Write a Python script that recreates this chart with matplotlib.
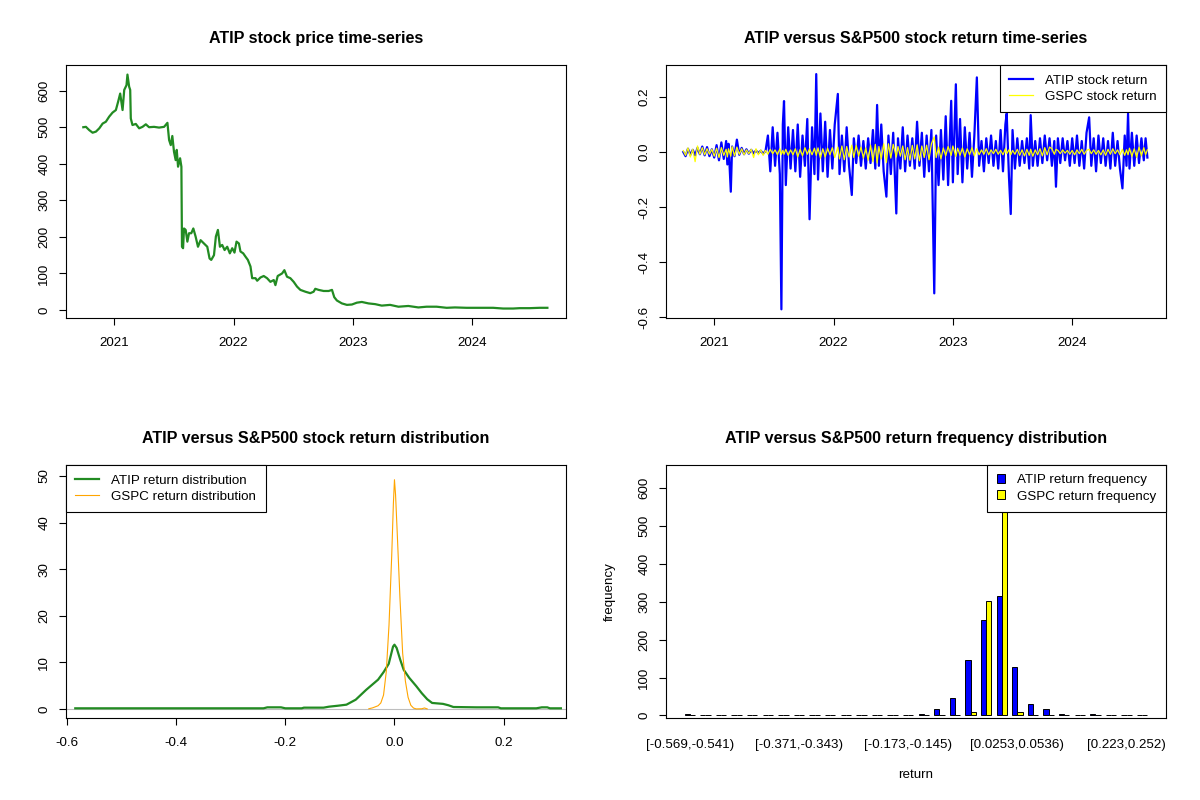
import numpy as np
import matplotlib
matplotlib.use("Agg")
import matplotlib.pyplot as plt
from matplotlib.patches import Patch
from matplotlib.lines import Line2D

plt.rcParams['font.family'] = ['Liberation Sans', 'DejaVu Sans']
plt.rcParams['axes.unicode_minus'] = False

# ---- ATIP closing price (decimal year, price) ----
price_t = [
    2020.741, 2020.763, 2020.791, 2020.819, 2020.847, 2020.875, 2020.903, 2020.930, 2020.958, 2020.986,
    2021.014, 2021.033, 2021.050, 2021.070, 2021.084, 2021.103, 2021.111, 2021.125, 2021.134, 2021.139,
    2021.153, 2021.181, 2021.209, 2021.237, 2021.265, 2021.292, 2021.334, 2021.376, 2021.418, 2021.446,
    2021.460, 2021.474, 2021.487, 2021.501, 2021.515, 2021.524, 2021.535, 2021.552, 2021.563, 2021.568,
    2021.577, 2021.585, 2021.599, 2021.613, 2021.627, 2021.646, 2021.663, 2021.682, 2021.702, 2021.724,
    2021.752, 2021.780, 2021.799, 2021.813, 2021.836, 2021.852, 2021.869, 2021.886, 2021.905, 2021.925,
    2021.947, 2021.969, 2021.989, 2022.008, 2022.025, 2022.045, 2022.058, 2022.081, 2022.100, 2022.120,
    2022.142, 2022.156, 2022.184, 2022.198, 2022.226, 2022.253, 2022.281, 2022.309, 2022.337, 2022.351,
    2022.370, 2022.407, 2022.426, 2022.448, 2022.476, 2022.504, 2022.532, 2022.560, 2022.602, 2022.643,
    2022.671, 2022.685, 2022.713, 2022.755, 2022.797, 2022.825, 2022.844, 2022.866, 2022.908, 2022.950,
    2022.992, 2023.033, 2023.075, 2023.131, 2023.187, 2023.242, 2023.312, 2023.382, 2023.465, 2023.549,
    2023.618, 2023.702, 2023.786, 2023.855, 2023.953, 2024.064, 2024.175, 2024.259, 2024.343, 2024.398,
    2024.482, 2024.565, 2024.630,
]
price = [
    500, 501, 492, 485, 488, 497, 510, 515, 529, 540,
    547, 570, 592, 547, 602, 615, 644, 611, 602, 524,
    506, 509, 497, 501, 508, 500, 501, 499, 501, 512,
    465, 451, 476, 433, 410, 438, 392, 415, 392, 173,
    169, 223, 219, 187, 210, 210, 223, 201, 173, 191,
    182, 173, 141, 137, 150, 201, 219, 173, 178, 164,
    173, 155, 169, 157, 187, 182, 160, 155, 146, 137,
    119, 87, 87, 80, 89, 93, 87, 77, 82, 68,
    93, 100, 109, 91, 87, 77, 64, 55, 50, 46,
    50, 58, 55, 52, 52, 55, 35, 26, 18, 14,
    15, 20, 22, 18, 16, 12, 14, 9, 11, 7,
    9, 9, 6, 7, 6, 6, 6, 4, 4, 5,
    5, 6, 6,
]

# ---- daily returns (decimal year), ATIP and GSPC ----
ret_t = [
    2020.741, 2020.76, 2020.78, 2020.80, 2020.82, 2020.84, 2020.86, 2020.88, 2020.90, 2020.92,
    2020.94, 2020.96, 2020.98, 2021.00, 2021.02, 2021.04, 2021.06, 2021.08, 2021.10, 2021.11,
    2021.12, 2021.139, 2021.15, 2021.17, 2021.19, 2021.21, 2021.23, 2021.25, 2021.27, 2021.29,
    2021.31, 2021.33, 2021.35, 2021.37, 2021.39, 2021.41, 2021.43, 2021.45, 2021.47, 2021.49,
    2021.51, 2021.53, 2021.55, 2021.563, 2021.575, 2021.585, 2021.60, 2021.62, 2021.64, 2021.66,
    2021.68, 2021.70, 2021.72, 2021.74, 2021.76, 2021.78, 2021.799, 2021.82, 2021.84, 2021.855,
    2021.87, 2021.89, 2021.91, 2021.93, 2021.95, 2021.97, 2021.99, 2022.01, 2022.036, 2022.05,
    2022.07, 2022.09, 2022.11, 2022.13, 2022.153, 2022.17, 2022.19, 2022.21, 2022.23, 2022.25,
    2022.27, 2022.29, 2022.31, 2022.33, 2022.35, 2022.365, 2022.38, 2022.40, 2022.42, 2022.443,
    2022.46, 2022.48, 2022.50, 2022.526, 2022.54, 2022.56, 2022.58, 2022.60, 2022.62, 2022.64,
    2022.66, 2022.68, 2022.70, 2022.72, 2022.74, 2022.76, 2022.78, 2022.80, 2022.82, 2022.844,
    2022.86, 2022.88, 2022.90, 2022.92, 2022.94, 2022.96, 2022.986, 2023.00, 2023.025, 2023.04,
    2023.06, 2023.08, 2023.10, 2023.12, 2023.14, 2023.16, 2023.18, 2023.201, 2023.22, 2023.24,
    2023.26, 2023.28, 2023.30, 2023.32, 2023.34, 2023.36, 2023.38, 2023.40, 2023.42, 2023.44,
    2023.451, 2023.47, 2023.485, 2023.50, 2023.52, 2023.54, 2023.56, 2023.58, 2023.60, 2023.62,
    2023.64, 2023.652, 2023.67, 2023.69, 2023.71, 2023.73, 2023.75, 2023.77, 2023.79, 2023.81,
    2023.83, 2023.85, 2023.864, 2023.88, 2023.90, 2023.92, 2023.94, 2023.96, 2023.98, 2024.00,
    2024.02, 2024.04, 2024.06, 2024.08, 2024.10, 2024.12, 2024.142, 2024.16, 2024.18, 2024.20,
    2024.22, 2024.24, 2024.26, 2024.28, 2024.30, 2024.32, 2024.34, 2024.36, 2024.38, 2024.40,
    2024.421, 2024.44, 2024.455, 2024.468, 2024.48, 2024.50, 2024.52, 2024.54, 2024.56, 2024.58,
    2024.60, 2024.615, 2024.63,
]
atip_ret = [
    0.000, -0.015, 0.012, -0.010, 0.008, -0.012, 0.015, -0.008, 0.020, -0.012,
    0.018, -0.015, 0.010, -0.020, 0.025, -0.030, 0.035, -0.025, 0.040, -0.045,
    0.030, -0.144, 0.020, -0.015, 0.045, -0.010, 0.015, -0.008, 0.010, -0.006,
    0.008, -0.005, 0.006, -0.004, 0.005, -0.006, 0.004, 0.060, -0.070, 0.090,
    -0.050, 0.070, -0.080, -0.571, 0.100, 0.185, -0.120, 0.090, -0.060, 0.080,
    -0.070, 0.100, -0.090, 0.060, -0.050, 0.120, -0.244, 0.090, -0.080, 0.283,
    -0.100, 0.140, -0.070, 0.110, -0.090, 0.080, -0.060, 0.100, 0.211, -0.080,
    0.060, -0.070, 0.090, -0.050, -0.156, 0.050, -0.040, 0.060, -0.050, 0.040,
    -0.060, 0.050, -0.040, 0.080, -0.060, 0.171, -0.050, 0.100, -0.070, -0.162,
    0.060, -0.080, 0.070, -0.223, 0.050, -0.060, 0.090, -0.070, 0.060, -0.050,
    0.050, -0.060, 0.110, -0.050, 0.070, -0.090, 0.060, -0.070, 0.080, -0.513,
    0.060, -0.120, 0.080, -0.100, 0.130, -0.120, 0.186, -0.110, 0.246, -0.080,
    0.120, -0.110, 0.090, -0.060, 0.070, -0.090, 0.060, 0.271, -0.050, 0.040,
    -0.070, 0.050, -0.040, 0.060, -0.050, 0.040, -0.060, 0.080, -0.070, 0.100,
    0.140, -0.090, -0.225, 0.080, -0.060, 0.050, -0.050, 0.040, -0.040, 0.050,
    -0.060, 0.134, -0.050, 0.040, -0.050, 0.050, -0.040, 0.060, -0.030, 0.050,
    -0.050, 0.040, -0.126, 0.050, -0.040, 0.050, -0.030, 0.040, -0.050, 0.050,
    -0.040, 0.060, -0.050, 0.040, -0.060, 0.070, 0.126, -0.050, 0.050, -0.070,
    0.060, -0.040, 0.050, -0.050, 0.040, -0.060, 0.070, -0.050, 0.040, -0.060,
    -0.132, 0.060, -0.050, 0.140, -0.060, 0.070, -0.050, 0.060, -0.040, 0.050,
    -0.030, 0.050, -0.020,
]
gspc_ret = [
    0.005, -0.012, 0.015, -0.018, 0.010, -0.035, 0.022, -0.008, 0.016, -0.010,
    0.012, -0.008, 0.010, -0.015, 0.014, -0.020, 0.016, -0.012, 0.010, -0.018,
    0.012, -0.015, 0.020, -0.014, 0.018, -0.008, 0.012, -0.010, 0.008, -0.006,
    0.010, -0.020, 0.012, -0.010, 0.008, -0.012, 0.006, -0.008, 0.010, -0.006,
    0.008, -0.010, 0.012, -0.009, 0.006, -0.008, 0.010, -0.012, 0.008, -0.010,
    0.012, -0.018, 0.010, -0.014, 0.016, -0.008, 0.012, -0.010, 0.014, -0.012,
    0.015, -0.022, 0.012, -0.018, 0.014, -0.010, 0.016, -0.020, 0.018, -0.025,
    0.022, -0.028, 0.020, -0.018, 0.025, -0.020, 0.024, -0.015, 0.018, -0.022,
    0.015, -0.030, 0.025, -0.035, 0.028, -0.040, 0.020, -0.025, 0.030, -0.038,
    0.030, -0.022, 0.028, -0.018, 0.020, -0.015, 0.022, -0.028, 0.016, -0.030,
    0.024, -0.025, 0.026, -0.032, 0.022, -0.020, 0.025, -0.028, 0.030, 0.055,
    -0.020, 0.018, -0.025, 0.015, -0.014, 0.020, -0.012, 0.022, -0.016, 0.014,
    -0.012, 0.015, -0.018, 0.012, -0.010, 0.016, -0.014, 0.012, -0.010, 0.008,
    -0.008, 0.012, -0.010, 0.008, -0.006, 0.010, -0.008, 0.006, -0.010, 0.012,
    -0.006, 0.008, -0.010, 0.006, -0.008, 0.010, -0.012, 0.008, -0.014, 0.010,
    -0.012, 0.010, -0.015, 0.008, -0.010, 0.012, -0.014, 0.016, -0.010, 0.018,
    0.012, -0.008, 0.010, 0.006, -0.006, 0.008, -0.004, 0.006, -0.008, 0.006,
    -0.010, 0.008, -0.006, 0.010, -0.008, 0.006, 0.010, -0.006, 0.008, -0.008,
    0.006, -0.010, 0.008, -0.012, 0.010, -0.008, 0.012, -0.006, 0.008, -0.010,
    0.010, -0.012, 0.008, -0.010, 0.014, -0.016, 0.012, -0.020, 0.018, -0.014,
    0.016, -0.010, 0.008,
]

# ---- kernel density curves ----
atip_dens_x = [-0.585, -0.50, -0.40, -0.30, -0.24, -0.233, -0.22, -0.208, -0.20, -0.17,
               -0.166, -0.13, -0.12, -0.104, -0.088, -0.071, -0.052, -0.030, -0.020, -0.0105,
               -0.0026, 0.0, 0.004, 0.0105, 0.017, 0.027, 0.040, 0.050, 0.060, 0.069,
               0.089, 0.099, 0.108, 0.15, 0.19, 0.195, 0.26, 0.27, 0.28, 0.285, 0.305]
atip_dens_y = [0.15, 0.15, 0.15, 0.15, 0.15, 0.36, 0.36, 0.36, 0.15, 0.15,
               0.29, 0.29, 0.5, 0.7, 0.93, 2.0, 4.1, 6.3, 7.9, 9.7,
               13.4, 13.8, 13.1, 10.6, 8.4, 6.7, 4.9, 3.4, 2.1, 1.3,
               1.1, 0.8, 0.43, 0.36, 0.36, 0.15, 0.15, 0.36, 0.36, 0.15, 0.15]
gspc_dens_x = [-0.047, -0.04, -0.03, -0.025, -0.02, -0.015, -0.01, -0.005, -0.002, 0.0,
               0.002, 0.005, 0.01, 0.015, 0.02, 0.025, 0.03, 0.035, 0.04, 0.05,
               0.055, 0.06]
gspc_dens_y = [0.05, 0.25, 0.7, 1.3, 3.0, 8.0, 18.0, 33.0, 44.0, 49.2,
               46.0, 38.0, 24.0, 12.0, 6.0, 2.5, 0.8, 0.2, 0.02, 0.05,
               0.22, 0.02]

# ---- histogram counts per return bin (30 bins) ----
atip_freq = [3, 0, 2, 0, 0, 0, 0, 0, 0, 0,
             0, 2, 2, 0, 2, 4, 16, 47, 146, 251,
             316, 128, 31, 18, 5, 2, 5, 2, 2, 2]
gspc_freq = [0, 0, 0, 0, 0, 0, 0, 0, 0, 0,
             0, 0, 0, 0, 0, 0, 0, 0, 10, 301,
             660, 10, 2, 1, 0, 0, 0, 0, 0, 0]
bin_label_idx = [0, 7, 14, 21, 28]
bin_labels = ['[-0.569,-0.541)', '[-0.371,-0.343)', '[-0.173,-0.145)',
              '[0.0253,0.0536)', '[0.223,0.252)']

year_ticks = [2021, 2022, 2023, 2024]

FS = 9.6
TFS = 11.6


def r_style(ax):
    for s in ax.spines.values():
        s.set_linewidth(0.8)
    ax.tick_params(axis='both', direction='out', length=5.3, width=0.8,
                   labelsize=FS, colors='black')
    ax.tick_params(axis='x', pad=8.5)
    ax.tick_params(axis='y', pad=6, labelrotation=90)
    for lab in ax.get_yticklabels():
        lab.set_va('center')


def r_legend(ax, handles, loc, **kw):
    leg = ax.legend(handles=handles, loc=loc, borderaxespad=0, fancybox=False,
                    framealpha=1, edgecolor='black', fontsize=FS,
                    borderpad=0.7, labelspacing=0.3, handletextpad=0.9, **kw)
    leg.get_frame().set_linewidth(0.8)
    return leg


fig = plt.figure(figsize=(12, 8), dpi=100)
W, H = 1200.0, 800.0
aw, ah = 500 / W, 253 / H
ax1 = fig.add_axes([66 / W, 1 - 318 / H, aw, ah])
ax2 = fig.add_axes([666 / W, 1 - 318 / H, aw, ah])
ax3 = fig.add_axes([66 / W, 1 - 718 / H, aw, ah])
ax4 = fig.add_axes([666 / W, 1 - 718 / H, aw, ah])

# price time-series
ax1.plot(price_t, price, color='forestgreen', lw=1.6)
ax1.set_xlim(2020.596, 2024.786)
ax1.set_ylim(-21.9, 670.2)
ax1.set_xticks(year_ticks)
ax1.set_xticklabels([str(y) for y in year_ticks])
ax1.set_yticks(range(0, 700, 100))
ax1.set_title('ATIP stock price time-series', fontsize=TFS, fontweight='bold', pad=15.5)
r_style(ax1)

# return time-series
ax2.plot(ret_t, atip_ret, color='blue', lw=1.6)
ax2.plot(ret_t, gspc_ret, color='yellow', lw=0.9)
ax2.set_xlim(2020.596, 2024.786)
ax2.set_ylim(-0.6025, 0.316)
ax2.set_xticks(year_ticks)
ax2.set_xticklabels([str(y) for y in year_ticks])
ax2.set_yticks([-0.6, -0.4, -0.2, 0.0, 0.2])
ax2.set_yticklabels(['-0.6', '-0.4', '-0.2', '0.0', '0.2'])
ax2.set_title('ATIP versus S&P500 stock return time-series', fontsize=TFS,
              fontweight='bold', pad=15.5)
r_style(ax2)
r_legend(ax2, [Line2D([], [], color='blue', lw=1.6),
               Line2D([], [], color='yellow', lw=0.9)],
         'upper right', labels=['ATIP stock return', 'GSPC stock return'],
         handlelength=1.8)

# return density
ax3.axhline(0, color='#BEBEBE', lw=0.8, zorder=1)
ax3.plot(atip_dens_x, atip_dens_y, color='forestgreen', lw=1.6, zorder=2)
ax3.plot(gspc_dens_x, gspc_dens_y, color='orange', lw=0.8, zorder=3)
ax3.set_xlim(-0.602, 0.3144)
ax3.set_ylim(-1.93, 52.36)
ax3.set_xticks([-0.6, -0.4, -0.2, 0.0, 0.2])
ax3.set_xticklabels(['-0.6', '-0.4', '-0.2', '0.0', '0.2'])
ax3.set_yticks(range(0, 60, 10))
ax3.set_title('ATIP versus S&P500 stock return distribution', fontsize=TFS,
              fontweight='bold', pad=15.5)
r_style(ax3)
r_legend(ax3, [Line2D([], [], color='forestgreen', lw=1.6),
               Line2D([], [], color='orange', lw=0.8)],
         'upper left', labels=['ATIP return distribution', 'GSPC return distribution'],
         handlelength=1.8)

# return frequency bars (R barplot, beside=TRUE)
n_bins = len(atip_freq)
grp = np.arange(n_bins) * 3
ax4.bar(grp + 1.5, atip_freq, width=1, color='blue', edgecolor='black', lw=0.7)
ax4.bar(grp + 2.5, gspc_freq, width=1, color='yellow', edgecolor='black', lw=0.7)
ax4.set_xlim(-2.56, 93.56)
ax4.set_ylim(-6.6, 660)
ax4.set_yticks(range(0, 700, 100))
ax4.set_xticks([3 * i + 2 for i in bin_label_idx])
ax4.set_xticklabels(bin_labels)
ax4.set_title('ATIP versus S&P500 return frequency distribution', fontsize=TFS,
              fontweight='bold', pad=15.5)
r_style(ax4)
ax4.tick_params(axis='x', length=0, pad=15)
ax4.text(0.5, -0.225, 'return', transform=ax4.transAxes, ha='center', va='center',
         fontsize=FS)
ax4.text(-0.112, 0.5, 'frequency', transform=ax4.transAxes, ha='center', va='center',
         rotation=90, fontsize=FS)
r_legend(ax4, [Patch(facecolor='blue', edgecolor='black', lw=0.7),
               Patch(facecolor='yellow', edgecolor='black', lw=0.7)],
         'upper right', labels=['ATIP return frequency', 'GSPC return frequency'],
         handlelength=0.65, handleheight=0.65)

fig.savefig('out.png', dpi=100)
